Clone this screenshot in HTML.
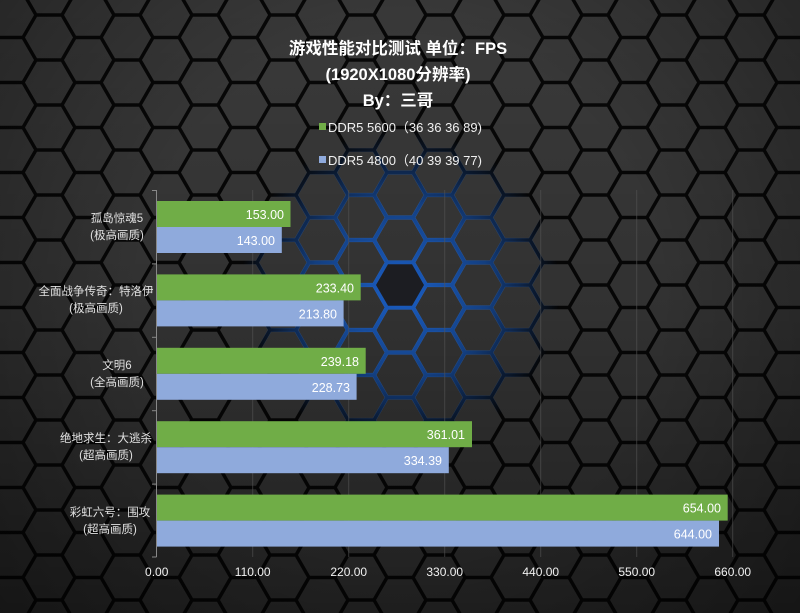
<!DOCTYPE html>
<html><head><meta charset="utf-8"><style>
html,body{margin:0;padding:0;background:#222;}
svg{display:block;}
text{font-family:"Liberation Sans","Noto Sans CJK SC",sans-serif;}
</style></head><body>
<svg width="800" height="613" viewBox="0 0 800 613" xmlns="http://www.w3.org/2000/svg">
<defs>
<pattern id="hex" x="10" y="15" width="78" height="45" patternUnits="userSpaceOnUse">
<rect width="78" height="45" fill="#070707"/>
<g fill="#3a3a3a">
<polygon id="h" points="24,0 12,20.8 -12,20.8 -24,0 -12,-20.8 12,-20.8"/>
<use href="#h" x="78"/><use href="#h" y="45"/><use href="#h" x="78" y="45"/><use href="#h" x="39" y="22.5"/>
</g>
</pattern>
<pattern id="hexb" x="10" y="15" width="78" height="45" patternUnits="userSpaceOnUse">
<g fill="none" stroke="#1f6fe8" stroke-width="2.5">
<polygon id="hb" points="25,0 12.5,21.6 -12.5,21.6 -25,0 -12.5,-21.6 12.5,-21.6"/>
<use href="#hb" x="78"/><use href="#hb" y="45"/><use href="#hb" x="78" y="45"/><use href="#hb" x="39" y="22.5"/>
</g>
</pattern>
<radialGradient id="glowm" cx="400" cy="290" r="160" gradientUnits="userSpaceOnUse">
<stop offset="0" stop-color="#fff" stop-opacity="0.85"/>
<stop offset="0.55" stop-color="#fff" stop-opacity="0.55"/>
<stop offset="1" stop-color="#fff" stop-opacity="0"/>
</radialGradient>
<mask id="gm"><rect width="800" height="613" fill="url(#glowm)"/></mask>
<linearGradient id="shade" x1="0" y1="0" x2="0" y2="1">
<stop offset="0" stop-color="#000" stop-opacity="0"/>
<stop offset="0.5" stop-color="#000" stop-opacity="0.15"/>
<stop offset="1" stop-color="#000" stop-opacity="0.45"/>
</linearGradient>
<radialGradient id="vig" cx="400" cy="300" r="520" gradientUnits="userSpaceOnUse">
<stop offset="0.5" stop-color="#000" stop-opacity="0"/>
<stop offset="1" stop-color="#000" stop-opacity="0.35"/>
</radialGradient>
</defs>
<rect width="800" height="613" fill="url(#hex)"/>
<rect width="800" height="613" fill="url(#shade)"/>
<rect width="800" height="613" fill="url(#vig)"/>
<rect width="800" height="613" fill="url(#hexb)" mask="url(#gm)"/>
<polygon points="424,285 412,305.8 388,305.8 376,285 388,264.2 412,264.2" fill="#1c1d22"/>

<g stroke="#555" stroke-width="1" opacity="0.6">
<line x1="252.7" y1="190" x2="252.7" y2="557"/>
<line x1="348.7" y1="190" x2="348.7" y2="557"/>
<line x1="444.7" y1="190" x2="444.7" y2="557"/>
<line x1="540.7" y1="190" x2="540.7" y2="557"/>
<line x1="636.7" y1="190" x2="636.7" y2="557"/>
<line x1="732.7" y1="190" x2="732.7" y2="557"/>
</g>
<g stroke="#888" stroke-width="1">
<line x1="156.5" y1="190" x2="156.5" y2="557"/>
<line x1="152" y1="190.5" x2="156.5" y2="190.5"/>
<line x1="152" y1="263.9" x2="156.5" y2="263.9"/>
<line x1="152" y1="337.3" x2="156.5" y2="337.3"/>
<line x1="152" y1="410.7" x2="156.5" y2="410.7"/>
<line x1="152" y1="484.1" x2="156.5" y2="484.1"/>
<line x1="152" y1="557" x2="156.5" y2="557"/>
</g>

<g font-size="12.5" fill="#fff" text-anchor="end">
<rect x="157" y="201" width="133.5" height="26" fill="#70ad47"/>
<rect x="157" y="227" width="124.8" height="26" fill="#8faadc"/>
<text x="284" y="219">153.00</text><text x="275" y="245">143.00</text>

<rect x="157" y="274.4" width="203.7" height="26" fill="#70ad47"/>
<rect x="157" y="300.4" width="186.6" height="26" fill="#8faadc"/>
<text x="354" y="292.4">233.40</text><text x="337" y="318.4">213.80</text>

<rect x="157" y="347.8" width="208.7" height="26" fill="#70ad47"/>
<rect x="157" y="373.8" width="199.6" height="26" fill="#8faadc"/>
<text x="359" y="365.8">239.18</text><text x="350" y="391.8">228.73</text>

<rect x="157" y="421.2" width="315" height="26" fill="#70ad47"/>
<rect x="157" y="447.2" width="291.8" height="26" fill="#8faadc"/>
<text x="465" y="439.2">361.01</text><text x="442" y="465.2">334.39</text>

<rect x="157" y="494.6" width="570.7" height="26" fill="#70ad47"/>
<rect x="157" y="520.6" width="562" height="26" fill="#8faadc"/>
<text x="721" y="512.6">654.00</text><text x="712" y="538.6">644.00</text>
</g>

<g font-size="11.5" fill="#e0e0e0" text-anchor="middle">
<text x="117" y="222">孤岛惊魂5</text><text x="117" y="239">(极高画质)</text>
<text x="96" y="295">全面战争传奇：特洛伊</text><text x="96" y="312">(极高画质)</text>
<text x="117" y="369">文明6</text><text x="117" y="386">(全高画质)</text>
<text x="106" y="442">绝地求生：大逃杀</text><text x="106" y="459">(超高画质)</text>
<text x="110" y="516">彩虹六号：围攻</text><text x="110" y="533">(超高画质)</text>
</g>

<g font-size="12" fill="#f0f0f0" text-anchor="middle">
<text x="156.7" y="576">0.00</text>
<text x="252.7" y="576">110.00</text>
<text x="348.7" y="576">220.00</text>
<text x="444.7" y="576">330.00</text>
<text x="540.7" y="576">440.00</text>
<text x="636.7" y="576">550.00</text>
<text x="732.7" y="576">660.00</text>
</g>

<g fill="#fff" font-weight="bold" font-size="16.5" text-anchor="middle">
<text x="398" y="54">游戏性能对比测试 单位：FPS</text>
<text x="398" y="80">(1920X1080分辨率)</text>
<text x="398" y="106">By：三哥</text>
</g>
<rect x="319" y="123" width="7" height="7" fill="#70ad47"/>
<rect x="319" y="156" width="7" height="7" fill="#8faadc"/>
<g fill="#f0f0f0" font-size="13">
<text x="328" y="132">DDR5 5600（36 36 36 89)</text>
<text x="328" y="165">DDR5 4800（40 39 39 77)</text>
</g>
</svg>
</body></html>
